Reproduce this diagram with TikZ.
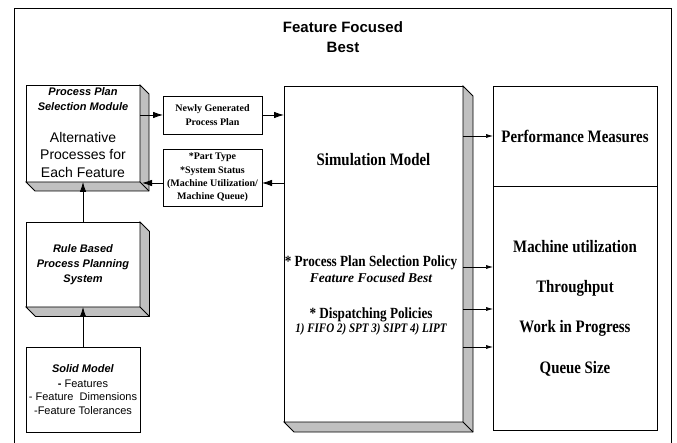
\documentclass[tikz,border=0pt]{standalone}
\usepackage{fontspec}
\setmainfont{Liberation Serif}
\setsansfont{Liberation Sans}
\newfontfamily\narrowrm{Liberation Serif}[FakeStretch=0.85]
\usepackage{tikz}
\usetikzlibrary{arrows.meta}
\definecolor{sidegray}{RGB}{192,192,192}

\begin{document}
\begin{tikzpicture}[x=1pt,y=-1pt,
    box/.style={draw,line width=0.8pt,fill=white,inner sep=0pt,outer sep=0pt,align=center},
    side/.style={draw,line width=0.8pt,fill=sidegray},
    link/.style={-{Latex[length=10pt,width=6.5pt]},line width=0.8pt},
    feed/.style={-{Latex[length=7pt,width=4pt]},line width=0.6pt},
    sanshead/.style={align=center,font=\fontsize{11}{15}\selectfont\sffamily\bfseries\itshape},
    bigrm/.style={align=center,font=\fontsize{17.5}{20}\selectfont\narrowrm\bfseries}]
   \useasboundingbox (0,0) rectangle (677,443);
   \draw[line width=0.8pt] (14,443) -- (14,8) -- (671,8) -- (671,443);
   \draw (343,37.5) node[align=center,font=\fontsize{15}{20}\selectfont\sffamily\bfseries] (title) {Feature Focused\\Best};

    % left column
    \draw (83,133.5) node[box,minimum width=114pt,minimum height=97pt] (ppsm) {};
    \draw (83,99.5) node[sanshead] (ppsmhead) {Process Plan\\Selection Module};
    \draw (83,154.5) node[align=center,font=\fontsize{14}{17.5}\selectfont\sffamily] (ppsmbody) {Alternative\\Processes for\\Each Feature};
    \draw (83,264.5) node[box,minimum width=114pt,minimum height=85pt,font=\fontsize{11}{15}\selectfont\sffamily\bfseries\itshape] (rule) {Rule Based\\Process Planning\\System};
    \draw (83,389.5) node[box,minimum width=114pt,minimum height=85pt,font=\fontsize{11}{13.3}\selectfont\sffamily] (solid) {\textbf{\textit{Solid Model}}\\[1.5pt]\textbf{-} Features\\- Feature\ \ Dimensions\\-Feature Tolerances};

    % messages
    \draw (212.5,115) node[box,minimum width=99pt,minimum height=38pt,font=\fontsize{10}{14}\selectfont\bfseries] (ngpp) {Newly Generated\\Process Plan};
    \draw (212.5,177.5) node[box,minimum width=99pt,minimum height=57pt,font=\fontsize{10}{13.3}\selectfont\bfseries] (status) {*Part Type\\*System Status\\(Machine Utilization/\\Machine Queue)};

    % simulation
    \draw (373.5,254) node[box,minimum width=179pt,minimum height=336pt] (sim) {};
    \draw (373.5,160) node[bigrm] (simname) {Simulation Model};
    \draw (371,263) node[font=\fontsize{15.5}{14}\selectfont\narrowrm\bfseries] (policy) {* Process Plan Selection Policy};
    \draw (371,277.5) node[font=\fontsize{13.5}{14}\selectfont\bfseries\itshape] (ffb) {Feature Focused Best};
    \draw (371,315) node[font=\fontsize{15.5}{14}\selectfont\narrowrm\bfseries] (dispatch) {* Dispatching Policies};
    \draw (371,329) node[font=\fontsize{13}{14}\selectfont\narrowrm\bfseries\itshape] (rules) {1) FIFO 2) SPT 3) SIPT 4) LIPT};

    % outputs
    \draw (575,136) node[box,bigrm,minimum width=164pt,minimum height=100pt] (perf) {Performance Measures};
    \draw (575,308) node[box,bigrm,minimum width=164pt,minimum height=244pt,font=\fontsize{17.5}{40.3}\selectfont\narrowrm\bfseries] (meas) {Machine utilization\\Throughput\\Work in Progress\\Queue Size};

    % depth
    \draw[side] (ppsm.north east) -- ++(9,9) -- ([shift={(9,9)}]ppsm.south east) -- ([shift={(9,9)}]ppsm.south west) -- (ppsm.south west) -- (ppsm.south east) -- cycle;
    \draw[side] (ppsm.south east) -- ++(9,9);
    \draw[side] (rule.north east) -- ++(9.5,9.5) -- ([shift={(9.5,9.5)}]rule.south east) -- ([shift={(9.5,9.5)}]rule.south west) -- (rule.south west) -- (rule.south east) -- cycle;
    \draw[side] (rule.south east) -- ++(9.5,9.5);
    \draw[side] (sim.north east) -- ++(10,10) -- ([shift={(10,10)}]sim.south east) -- ([shift={(10,10)}]sim.south west) -- (sim.south west) -- (sim.south east) -- cycle;
    \draw[side] (sim.south east) -- ++(10,10);

    % connectors
    \path ([yshift=-5.5pt]status.east) coordinate (sin) ([yshift=-5.5pt]status.west) coordinate (sout);
    \draw[link] (ppsm.east |- ngpp.west) -- (ngpp.west);
    \draw[link] (ngpp.east) -- (sim.west |- ngpp.east);
    \draw[link] (sim.west |- sin) -- (sin);
    \draw[link] (sout) -- ([xshift=2pt]ppsm.east |- sout);
    \draw[link] (rule.north) -- (ppsm.south);
    \draw[link] (solid.north) -- (rule.south);
    \draw[feed] (sim.east |- perf.west) -- (perf.west);
    \foreach \dy in {41,-1,-39} {
      \path ([yshift=\dy pt]meas.west) coordinate (m);
      \draw[feed] (sim.east |- m) -- (m);
    }
\end{tikzpicture}
\end{document}
